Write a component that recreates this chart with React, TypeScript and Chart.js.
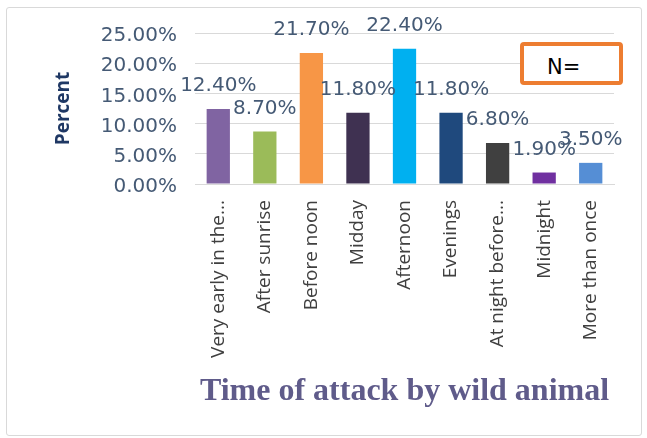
import React, { useEffect, useRef } from "react";
import { Chart, registerables } from "chart.js";

Chart.register(...registerables);

const categories = [
  "Very early in the...",
  "After sunrise",
  "Before noon",
  "Midday",
  "Afternoon",
  "Evenings",
  "At night before...",
  "Midnight",
  "More than once",
];
const percentValues = [12.4, 8.7, 21.7, 11.8, 22.4, 11.8, 6.8, 1.9, 3.5];
const barColors = [
  "#8064A2",
  "#9BBB59",
  "#F79646",
  "#3F3151",
  "#00B0F0",
  "#1F497D",
  "#404040",
  "#7030A0",
  "#558ED5",
];
const yTitle = "Percent";
const xTitle = "Time of attack by wild animal";
const nLabel = "N=";

const labelColor = "#455A75";

const dataLabelPlugin = {
  id: "dataLabels",
  afterDatasetsDraw(chart: any) {
    const ctx = chart.ctx;
    const meta = chart.getDatasetMeta(0);
    ctx.save();
    ctx.font = "20px 'DejaVu Sans'";
    ctx.fillStyle = labelColor;
    ctx.textAlign = "center";
    ctx.textBaseline = "middle";
    meta.data.forEach((el: any, i: number) => {
      const v = chart.data.datasets[0].data[i] as number;
      ctx.fillText(v.toFixed(2) + "%", el.x, el.y - 23);
    });
    ctx.restore();
  },
};

export default function App() {
  const canvasRef = useRef<HTMLCanvasElement | null>(null);

  useEffect(() => {
    document.body.style.margin = "0";
    const canvas = canvasRef.current;
    if (!canvas) return;
    const chart = new Chart(canvas, {
      type: "bar",
      data: {
        labels: categories,
        datasets: [
          {
            data: percentValues,
            backgroundColor: barColors,
            barPercentage: 0.5,
            categoryPercentage: 1,
          },
        ],
      },
      plugins: [dataLabelPlugin],
      options: {
        animation: false,
        responsive: false,
        maintainAspectRatio: false,
        layout: { padding: { top: 33, right: 33, bottom: 0, left: 0 } },
        plugins: {
          legend: { display: false },
          tooltip: { enabled: false },
        },
        scales: {
          x: {
            grid: { display: false, drawTicks: false },
            border: { display: true, color: "#D9D9D9" },
            ticks: {
              autoSkip: false,
              maxRotation: 90,
              minRotation: 90,
              padding: 16,
              color: "#404040",
              font: { family: "'Open Sans'", size: 19 },
            },
            title: {
              display: true,
              text: xTitle,
              color: "#5F5B8A",
              font: { family: "'Liberation Serif'", size: 32, weight: "bold" },
              padding: { top: 0, bottom: 27 },
            },
            afterFit(scale: any) {
              scale.height = 254;
            },
          },
          y: {
            min: 0,
            max: 25,
            grid: { color: "#D9D9D9", drawTicks: false },
            border: { display: false },
            ticks: {
              stepSize: 5,
              padding: 18,
              labelOffset: 3,
              color: labelColor,
              font: { family: "'DejaVu Sans'", size: 20 },
              callback: (v: any) => Number(v).toFixed(2) + "%",
            },
            title: {
              display: true,
              text: yTitle,
              color: "#1F3864",
              font: { family: "'Open Sans'", size: 19, weight: "bold" },
              padding: { top: 52, bottom: 0 },
            },
            afterFit(scale: any) {
              scale.width = 195;
            },
          },
        },
      },
    });
    return () => chart.destroy();
  }, []);

  return (
    <div style={{ position: "relative", width: 647, height: 438, background: "#fff" }}>
      <div
        style={{
          position: "absolute",
          left: 6,
          top: 7,
          width: 636,
          height: 429,
          boxSizing: "border-box",
          border: "1px solid #D9D9D9",
          borderRadius: 3,
        }}
      />
      <canvas ref={canvasRef} width={647} height={438} style={{ position: "absolute", left: 0, top: 0 }} />
      <div
        style={{
          position: "absolute",
          left: 520,
          top: 42,
          width: 103,
          height: 43,
          boxSizing: "border-box",
          border: "4px solid #ED7D31",
          borderRadius: 4,
          background: "#fff",
        }}
      />
      <div
        style={{
          position: "absolute",
          left: 547,
          top: 55,
          fontFamily: "'DejaVu Sans'",
          fontSize: 21,
          lineHeight: "24px",
          color: "#000",
        }}
      >
        {nLabel}
      </div>
    </div>
  );
}
